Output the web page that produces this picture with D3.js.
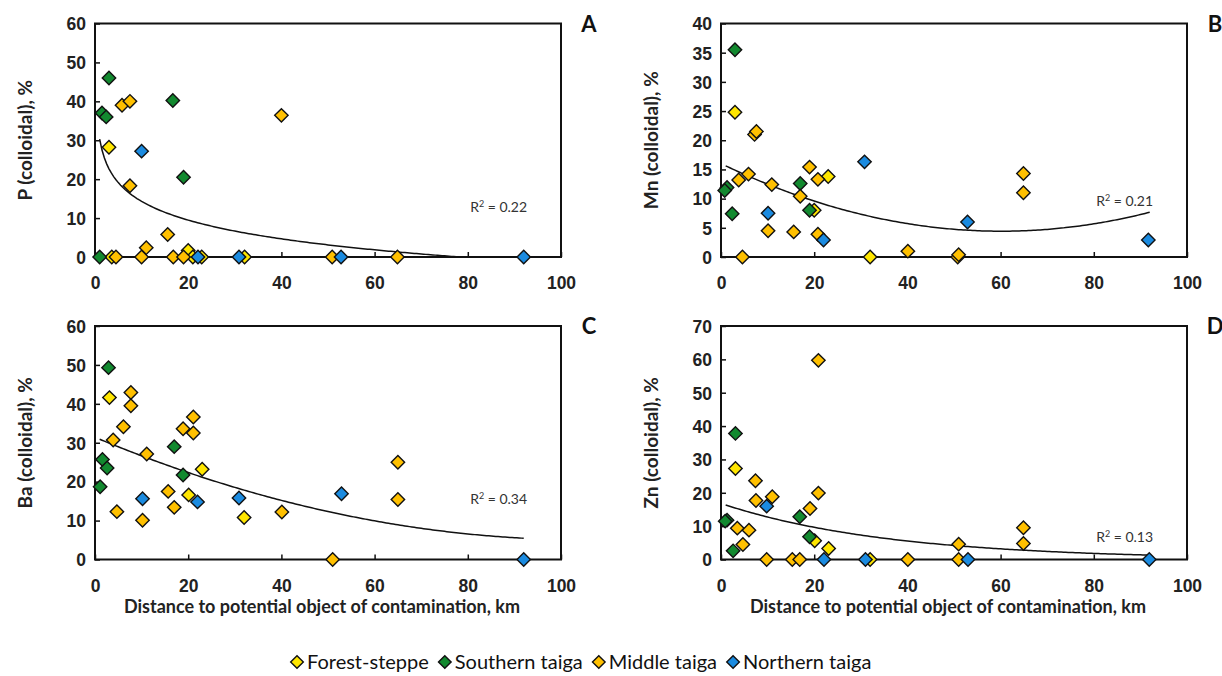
<!DOCTYPE html>
<html>
<head>
<meta charset="utf-8">
<script src="https://cdn.jsdelivr.net/npm/d3@7"></script>
<style>
  body { margin: 0; background: #fff; }
  svg { display: block; font-family: Lato, "Open Sans", sans-serif; }
  .tick text { font-weight: bold; font-size: 17.5px; fill: #222; }
  .tick line { stroke: #111; stroke-width: 1.5; }
</style>
</head>
<body>
<div id="chart"></div>
<script>
// regions (legend order)
let regions = ["Forest-steppe", "Southern taiga", "Middle taiga", "Northern taiga"];
let region_colors = ["#ffe600", "#12892f", "#ffc000", "#1b8be0"];

let x_ticks = [0, 20, 40, 60, 80, 100];

// panel A: P (colloidal), %  -- [distance km, value]
let p_forest = [[3, 28.2], [20, 1.7], [3.6, 0], [21, 0], [22.9, 0], [32.1, 0]];
let p_south = [[1, 0], [3, 46], [1.5, 37], [2.4, 36], [16.7, 40.2], [19, 20.5]];
let p_middle = [[5.8, 39], [7.5, 40], [40, 36.4], [7.5, 18.3], [15.6, 5.8], [11, 2.4],
    [4.5, 0], [10, 0], [16.8, 0], [19, 0], [50.9, 0], [64.9, 0]];
let p_north = [[10, 27.2], [22.1, 0], [30.9, 0], [52.8, 0], [92, 0]];

// panel B: Mn
let mn_forest = [[3, 24.8], [23, 13.8], [20, 8], [32, 0]];
let mn_south = [[3, 35.5], [17, 12.6], [1.3, 11.9], [0.8, 11.4], [2.4, 7.4], [19, 8]];
let mn_middle = [[7.2, 21], [7.6, 21.5], [5.9, 14.2], [19, 15.4], [20.8, 13.3], [3.8, 13.2],
    [10.9, 12.4], [17, 10.4], [10.1, 4.5], [15.6, 4.3], [20.8, 3.9], [4.6, 0], [40.1, 1.0],
    [64.9, 14.3], [64.9, 11.0], [50.8, 0], [51, 0.4]];
let mn_north = [[30.8, 16.3], [10.1, 7.5], [22, 2.9], [52.9, 6.0], [91.7, 2.9]];

// panel C: Ba
let ba_forest = [[3.1, 41.6], [23, 23.2], [20.1, 16.6], [32, 10.8]];
let ba_south = [[2.9, 49.3], [1.6, 25.7], [2.6, 23.5], [1.1, 18.7], [17, 29], [18.9, 21.7]];
let ba_middle = [[7.7, 42.9], [7.7, 39.5], [6.1, 34.1], [3.9, 30.7], [11.1, 27.1], [4.7, 12.3],
    [10.2, 10.1], [15.7, 17.5], [17, 13.4], [18.9, 33.6], [21.1, 36.6], [21.1, 32.5],
    [40.1, 12.2], [65, 25], [65, 15.4], [51, 0]];
let ba_north = [[10.2, 15.6], [22, 14.8], [30.9, 15.8], [52.9, 16.9], [92, 0]];

// panel D: Zn
let zn_forest = [[3.1, 27.3], [20.1, 5.6], [23.1, 3.3], [32, 0]];
let zn_south = [[3.1, 37.8], [16.9, 12.8], [1.3, 11.8], [0.9, 11.5], [2.6, 2.6], [19, 6.8]];
let zn_middle = [[20.9, 59.7], [7.4, 23.6], [7.5, 17.7], [11, 18.8], [20.9, 19.9], [19.1, 15.3],
    [3.5, 9.4], [6, 8.8], [4.7, 4.5], [9.8, 0], [15.3, 0], [16.9, 0], [40.1, 0],
    [64.9, 9.5], [64.9, 4.8], [51, 4.6], [51, 0]];
let zn_north = [[9.8, 16], [22.1, 0], [31, 0], [53, 0], [91.9, 0]];

// trend lines (Excel style trendlines)
let trend_p = {type: "log", a: 30.3, b: 6.95, r2: "0.22"};
let trend_mn = {type: "poly", c: [16.0, -0.385, 0.0032], r2: "0.21"};
let trend_ba = {type: "poly", c: [31.4, -0.5, 0.00237], r2: "0.34"};
let trend_zn = {type: "exp", a: 16.8, b: 0.0277, r2: "0.13"};

let panels = [
    {id: "A", title: "P (colloidal), %", ymax: 60, ystep: 10, series: [p_forest, p_south, p_middle, p_north], trend: trend_p, col: 0, row: 0},
    {id: "B", title: "Mn (colloidal), %", ymax: 40, ystep: 5, series: [mn_forest, mn_south, mn_middle, mn_north], trend: trend_mn, col: 1, row: 0},
    {id: "C", title: "Ba (colloidal), %", ymax: 60, ystep: 10, series: [ba_forest, ba_south, ba_middle, ba_north], trend: trend_ba, col: 0, row: 1},
    {id: "D", title: "Zn (colloidal), %", ymax: 70, ystep: 10, series: [zn_forest, zn_south, zn_middle, zn_north], trend: trend_zn, col: 1, row: 1}
];

let W = 1222, H = 676;
let col_left = [95, 721], row_top = [23.5, 326];
let pw = 466, ph = 233.5;

let svg = d3.select("#chart").append("svg")
    .attr("width", W).attr("height", H);

let diamond = d3.symbol().type(d3.symbolSquare).size(90);

function trend_value(t, x) {
    if (t.type == "log") return t.a - t.b * Math.log(x);
    if (t.type == "exp") return t.a * Math.exp(-t.b * x);
    return t.c[0] + t.c[1] * x + t.c[2] * x * x;
}

panels.forEach(function (p) {
    let g = svg.append("g")
        .attr("transform", "translate(" + col_left[p.col] + "," + row_top[p.row] + ")");

    let x = d3.scaleLinear().domain([0, 100]).range([0, pw]);
    let y = d3.scaleLinear().domain([0, p.ymax]).range([ph, 0]);

    // axes, ticks pointing inside
    let xa = g.append("g").attr("transform", "translate(0," + ph + ")")
        .call(d3.axisBottom(x).tickValues(x_ticks).tickSize(-5).tickPadding(20));
    let ya = g.append("g")
        .call(d3.axisLeft(y).tickValues(d3.range(0, p.ymax + 0.01, p.ystep)).tickSize(-5).tickPadding(9));
    xa.select(".domain").remove();
    ya.select(".domain").remove();
    ya.selectAll(".tick text").attr("dy", "0.36em");

    // frame
    g.append("rect")
        .attr("width", pw).attr("height", ph)
        .attr("fill", "none").attr("stroke", "#111").attr("stroke-width", 2);

    // y title
    g.append("text")
        .attr("transform", "translate(" + (-70) + "," + (ph / 2) + ") rotate(-90)")
        .attr("text-anchor", "middle").attr("dy", "0.36em")
        .style("font-weight", "bold").style("font-size", "19px").style("fill", "#222")
        .text(p.title);

    // panel letter
    g.append("text")
        .attr("x", pw + 28).attr("y", 8)
        .attr("text-anchor", "middle")
        .style("font-weight", "bold").style("font-size", "22px").style("fill", "#111")
        .text(p.id);

    // trend line
    let xs = d3.range(1, 92.01, 0.5).filter(function (v) { return trend_value(p.trend, v) >= 0; });
    let line = d3.line()
        .x(function (d) { return x(d); })
        .y(function (d) { return y(trend_value(p.trend, d)); });
    g.append("path").datum(xs)
        .attr("d", line)
        .attr("fill", "none").attr("stroke", "#111").attr("stroke-width", 1.5);

    // R2 label
    let r2 = g.append("text")
        .attr("x", x(80.5)).attr("y", p.row == 0 ? (p.col == 0 ? 188 : 182) : (p.col == 0 ? 178 : 216))
        .style("font-size", "14px").style("fill", "#333");
    r2.append("tspan").text("R");
    r2.append("tspan").attr("dy", -5).style("font-size", "9px").text("2");
    r2.append("tspan").attr("dy", 5).text(" = " + p.trend.r2);

    // points
    p.series.forEach(function (s, i) {
        g.append("g").selectAll("path")
            .data(s)
            .enter().append("path")
            .attr("d", diamond)
            .attr("transform", function (d) { return "translate(" + x(d[0]) + "," + y(d[1]) + ") rotate(45)"; })
            .attr("fill", region_colors[i])
            .attr("stroke", "#111").attr("stroke-width", 1.4);
    });

    // x title on lower panels
    if (p.row == 1) {
        g.append("text")
            .attr("x", pw / 2 - 6).attr("y", ph + 53)
            .attr("text-anchor", "middle")
            .style("font-weight", "bold").style("font-size", "18px").style("fill", "#222")
            .text("Distance to potential object of contamination, km");
    }
});

// legend
let legend = svg.append("g").attr("transform", "translate(0,662)");
let lx = 297;
regions.forEach(function (r, i) {
    legend.append("path")
        .attr("d", d3.symbol().type(d3.symbolSquare).size(80))
        .attr("transform", "translate(" + lx + ",0) rotate(45)")
        .attr("fill", region_colors[i]).attr("stroke", "#111").attr("stroke-width", 1.4);
    let t = legend.append("text")
        .attr("x", lx + 10).attr("dy", "0.35em")
        .style("font-size", "20px").style("fill", "#111")
        .text(r);
    lx += 10 + t.node().getComputedTextLength() + 16;
});
</script>
</body>
</html>
